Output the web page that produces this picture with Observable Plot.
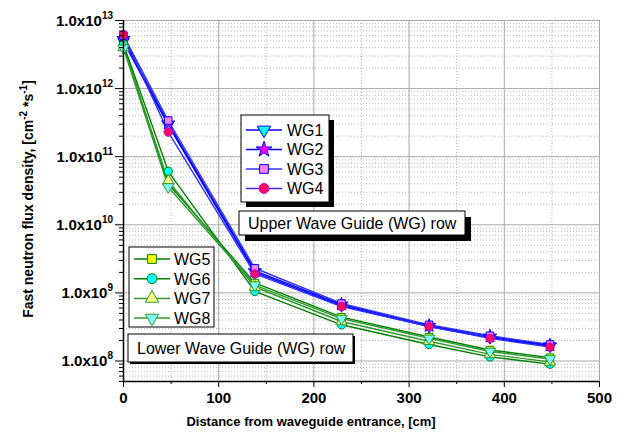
<!DOCTYPE html>
<html>
<head>
<meta charset="utf-8">
<script src="https://cdn.jsdelivr.net/npm/d3@7"></script>
<script src="https://cdn.jsdelivr.net/npm/@observablehq/plot@0.6"></script>
<style>
  html, body { margin: 0; padding: 0; background: #fff; }
  svg { font-family: "Liberation Sans", Arial, sans-serif; }
</style>
</head>
<body>
<div id="chart"></div>
<script>
// ---- data ----
const distance = [0, 47, 138, 229, 321, 385, 448];
const names = ["WG1", "WG2", "WG3", "WG4", "WG5", "WG6", "WG7", "WG8"];
const WG1 = [4.9e12, 2.9e11, 2.0e9, 6.5e8, 3.2e8, 2.2e8, 1.65e8];
const WG2 = [5.4e12, 3.1e11, 2.1e9, 6.8e8, 3.3e8, 2.3e8, 1.70e8];
const WG3 = [6.0e12, 3.4e11, 2.3e9, 7.0e8, 3.4e8, 2.35e8, 1.75e8];
const WG4 = [6.2e12, 2.3e11, 1.9e9, 6.3e8, 3.2e8, 2.15e8, 1.60e8];
const WG5 = [4.3e12, 4.0e10, 1.40e9, 4.4e8, 2.25e8, 1.45e8, 1.12e8];
const WG6 = [4.5e12, 6.1e10, 1.05e9, 3.4e8, 1.75e8, 1.15e8, 9.0e7];
const WG7 = [4.0e12, 4.4e10, 1.22e9, 3.8e8, 1.95e8, 1.25e8, 9.7e7];
const WG8 = [3.9e12, 3.6e10, 1.30e9, 4.2e8, 2.15e8, 1.38e8, 1.07e8];
const values = [WG1, WG2, WG3, WG4, WG5, WG6, WG7, WG8];

const xMajor = [0, 100, 200, 300, 400, 500];
const xMinor = [50, 150, 250, 350, 450];
const yMajor = [1e8, 1e9, 1e10, 1e11, 1e12, 1e13];
const yExp = ["8", "9", "10", "11", "12", "13"];
const yMinor = [];
for (let e = 7; e <= 12; e++) for (let m = 2; m <= 9; m++) { const v = m * Math.pow(10, e); if (v >= 5e7) yMinor.push(v); }

// ---- styles ----
const styles = {
  WG1: {line: "#0000ff", symbol: "triangle", rotate: 180, fill: "#00ffff", stroke: "#0000ff"},
  WG2: {line: "#0000ff", symbol: "star", rotate: 0, fill: "#ff00ff", stroke: "#0000ff"},
  WG3: {line: "#3030ff", symbol: "square", rotate: 0, fill: "#ff80ff", stroke: "#0000ff"},
  WG4: {line: "#3030ff", symbol: "circle", rotate: 0, fill: "#ff0066", stroke: "#c000c0"},
  WG5: {line: "#008000", symbol: "square", rotate: 0, fill: "#ffff00", stroke: "#008000"},
  WG6: {line: "#008000", symbol: "circle", rotate: 0, fill: "#00ffff", stroke: "#008000"},
  WG7: {line: "#2f9a2f", symbol: "triangle", rotate: 0, fill: "#ffff80", stroke: "#2f9a2f"},
  WG8: {line: "#2f9a2f", symbol: "triangle", rotate: 180, fill: "#80ffff", stroke: "#2f9a2f"}
};
const R = 4.2;

const rows = names.map((n, i) => distance.map((d, j) => ({name: n, x: d, y: values[i][j]})));

const marks = [
  Plot.ruleY(yMinor, {stroke: "#b8b8b8", strokeDasharray: "1,2"}),
  Plot.ruleX(xMinor, {stroke: "#b8b8b8", strokeDasharray: "1,2"}),
  Plot.ruleY(yMajor, {stroke: "#a8a8a8"}),
  Plot.ruleX(xMajor, {stroke: "#a8a8a8"}),
];
names.forEach((n, i) => {
  marks.push(Plot.line(rows[i], {x: "x", y: "y", stroke: styles[n].line, strokeWidth: 1.4}));
});
names.forEach((n, i) => {
  const s = styles[n];
  marks.push(Plot.dot(rows[i], {x: "x", y: "y", r: R, symbol: s.symbol, rotate: s.rotate, fill: s.fill, stroke: s.stroke, strokeWidth: 1}));
});
marks.push(
  Plot.axisX({ticks: xMajor, tickSize: 6, tickPadding: 5, fontSize: 15, fontWeight: "bold", label: null, stroke: "black"}),
  Plot.axisX({ticks: xMinor, tickSize: 3, tickFormat: () => "", label: null}),
  Plot.axisY({ticks: yMajor, tickSize: 8, tickFormat: () => "", label: null}),
  Plot.axisY({ticks: yMinor, tickSize: 4, tickFormat: () => "", label: null}),
  Plot.ruleX([0], {stroke: "black", strokeWidth: 1.5}),
  Plot.ruleY([5e7], {stroke: "black", strokeWidth: 1.5})
);

const plot = Plot.plot({
  width: 633,
  height: 437,
  marginLeft: 123,
  marginRight: 34,
  marginTop: 20,
  marginBottom: 56,
  x: {domain: [0, 500]},
  y: {type: "log", domain: [5e7, 1e13]},
  style: {fontFamily: "'Liberation Sans', Arial, sans-serif", color: "black", background: "white"},
  marks
});
document.getElementById("chart").appendChild(plot);

const svg = d3.select(plot);
const ys = plot.scale("y");

// y tick labels with superscript
yMajor.forEach((v, i) => {
  const t = svg.append("text")
    .attr("x", 113).attr("y", ys.apply(v) + 5.5)
    .attr("text-anchor", "end")
    .attr("font-size", 15).attr("font-weight", "bold").attr("fill", "black");
  t.append("tspan").text("1.0x10");
  t.append("tspan").attr("dy", -7).attr("font-size", 10).text(yExp[i]);
});

// axis titles
svg.append("text")
  .attr("x", 311).attr("y", 426)
  .attr("text-anchor", "middle").attr("font-size", 13).attr("font-weight", "bold")
  .text("Distance from waveguide entrance, [cm]");

const yt = svg.append("text")
  .attr("transform", "translate(33,199) rotate(-90)")
  .attr("text-anchor", "middle").attr("font-size", 14).attr("font-weight", "bold");
yt.append("tspan").text("Fast neutron flux density, [cm");
yt.append("tspan").attr("dy", -6).attr("font-size", 10).text("-2");
yt.append("tspan").attr("dy", 6).text(" *s");
yt.append("tspan").attr("dy", -6).attr("font-size", 10).text("-1");
yt.append("tspan").attr("dy", 6).text("]");

// legends
function legend(box, items, shadow) {
  const g = svg.append("g").attr("text-anchor", "start");
  if (shadow) g.append("rect").attr("x", box.x + shadow).attr("y", box.y + shadow).attr("width", box.w).attr("height", box.h).attr("fill", "black");
  g.append("rect").attr("x", box.x).attr("y", box.y).attr("width", box.w).attr("height", box.h).attr("fill", "white").attr("stroke", "black").attr("stroke-width", 1);
  items.forEach((n, i) => {
    const s = styles[n];
    const y = box.iy0 + i * box.step;
    g.append("line").attr("x1", box.l1).attr("x2", box.l2).attr("y1", y).attr("y2", y).attr("stroke", s.line).attr("stroke-width", 1.5);
    const sym = {triangle: d3.symbolTriangle, star: d3.symbolStar, square: d3.symbolSquare, circle: d3.symbolCircle}[s.symbol];
    g.append("path").attr("d", d3.symbol(sym, Math.PI * R * R * 1.4)())
      .attr("transform", `translate(${box.mx},${y}) rotate(${s.rotate})`)
      .attr("fill", s.fill).attr("stroke", s.stroke);
    g.append("text").attr("x", box.tx).attr("y", y + 5.8).attr("text-anchor", "start").attr("font-size", 16).attr("fill", "black").text(n);
  });
}
legend({x: 241, y: 115, w: 88, h: 87, iy0: 130, step: 19.5, l1: 246, l2: 282, mx: 264, tx: 287}, ["WG1", "WG2", "WG3", "WG4"], 5);
legend({x: 129, y: 247, w: 85, h: 80, iy0: 259, step: 19.7, l1: 134, l2: 170, mx: 152, tx: 174}, ["WG5", "WG6", "WG7", "WG8"], 0);

function labelBox(x, y, w, h, text, shadow) {
  if (shadow) svg.append("rect").attr("x", x + shadow).attr("y", y + shadow).attr("width", w).attr("height", h).attr("fill", "black");
  svg.append("rect").attr("x", x).attr("y", y).attr("width", w).attr("height", h).attr("fill", "white").attr("stroke", "black");
  svg.append("text").attr("x", x + 9).attr("y", y + h / 2 + 5.8).attr("text-anchor", "start").attr("font-size", 16).attr("fill", "black").text(text);
}
labelBox(239, 211, 226, 24, "Upper Wave Guide (WG) row", 6);
labelBox(128, 334, 225, 28, "Lower Wave Guide (WG) row", 2);
</script>
</body>
</html>
